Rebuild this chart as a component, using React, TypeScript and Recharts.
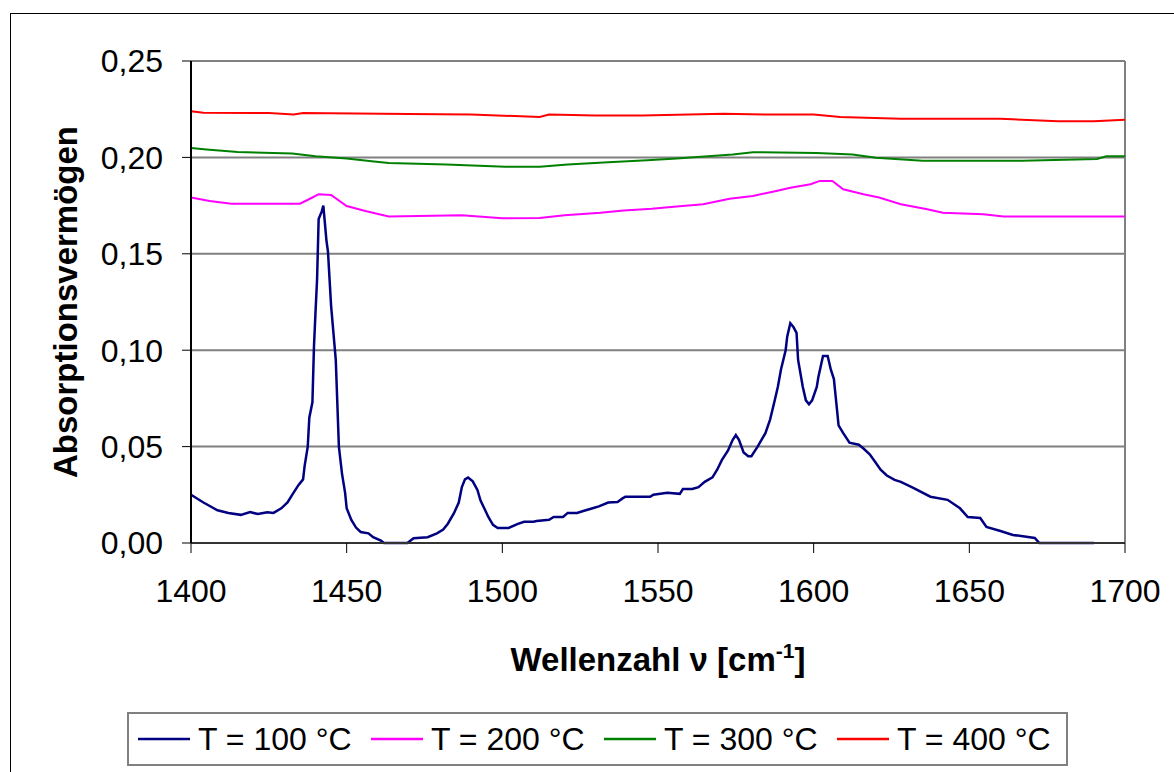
import {
  LineChart,
  Line,
  XAxis,
  YAxis,
  CartesianGrid,
  ReferenceLine,
  Legend,
  Label,
} from 'recharts';

// Wellenzahl [cm^-1] und Absorptionsvermögen je Temperatur
const nu100 = [
  1400, 1404, 1408.5, 1412, 1416, 1419, 1421.5, 1424.5, 1426.5, 1429, 1431, 1432.5, 1434.5, 1436,
  1436.5, 1437.5, 1438, 1439, 1439.5, 1440, 1440.5, 1441, 1442, 1442.5, 1443, 1443.5, 1444, 1445,
  1446.5, 1447.5, 1448.5, 1449.5, 1450, 1451.5, 1453, 1454.5, 1457, 1458.5, 1461, 1462, 1469.5,
  1471.5, 1476, 1479, 1481, 1482.5, 1484.5, 1486, 1487, 1488, 1489, 1490.5, 1492, 1493, 1494.5,
  1495.5, 1497, 1498.5, 1502, 1505, 1507, 1510, 1511, 1515, 1516.5, 1519.5, 1521, 1524, 1526, 1529,
  1531, 1534, 1537, 1538.5, 1539.5, 1547.5, 1548.5, 1553, 1557, 1558, 1561, 1563, 1565, 1567.5, 1569,
  1570.5, 1572.5, 1574, 1575, 1576, 1577.5, 1579, 1580, 1582, 1584.5, 1586, 1587.5, 1588.5, 1589.5,
  1591, 1591.5, 1592.5, 1593.5, 1594.5, 1595, 1596.5, 1597.5, 1598.5, 1599.5, 1601, 1601.5, 1603,
  1604.5, 1605.5, 1606.5, 1607.5, 1608, 1609.5, 1611.5, 1614.5, 1616, 1618, 1620, 1621.5, 1623.5,
  1626, 1628, 1632, 1637.5, 1643, 1647, 1649.5, 1653.5, 1655.5, 1660, 1664, 1671, 1672.5, 1690,
];
const abs100 = [
  0.025, 0.021, 0.017, 0.0156, 0.0146, 0.016, 0.015, 0.016, 0.0156, 0.018, 0.021, 0.025, 0.03, 0.033,
  0.04, 0.05, 0.065, 0.073, 0.102, 0.12, 0.137, 0.168, 0.172, 0.175, 0.166, 0.157, 0.151, 0.123,
  0.095, 0.05, 0.036, 0.026, 0.018, 0.012, 0.008, 0.0057, 0.005, 0.003, 0.0012, 0, 0,
  0.0025, 0.003, 0.005, 0.007, 0.01, 0.0156, 0.021, 0.029, 0.033, 0.034, 0.032, 0.0275, 0.022, 0.017,
  0.0135, 0.0094, 0.0078, 0.0078, 0.0099, 0.011, 0.011, 0.0114, 0.012, 0.0135, 0.0135, 0.0156, 0.0156, 0.0166, 0.018,
  0.019, 0.021, 0.0213, 0.023, 0.024, 0.024, 0.025, 0.026, 0.0255, 0.028, 0.028, 0.029, 0.0317, 0.034, 0.038,
  0.043, 0.048, 0.0535, 0.056, 0.0535, 0.047, 0.045, 0.045, 0.05, 0.057, 0.064, 0.074, 0.081, 0.09,
  0.1, 0.107, 0.114, 0.112, 0.109, 0.095, 0.081, 0.074, 0.072, 0.074, 0.081, 0.086, 0.097,
  0.097, 0.09, 0.085, 0.069, 0.061, 0.057, 0.052, 0.051, 0.049, 0.046, 0.0415, 0.038, 0.035,
  0.0327, 0.0317, 0.0286, 0.024, 0.0224, 0.018, 0.0135, 0.013, 0.0083, 0.0062, 0.0042, 0.0026, 0, 0,
];

const nu200 = [
  1400, 1406, 1413, 1435, 1439, 1441, 1445, 1450, 1456, 1463.5, 1487, 1500, 1512, 1520, 1531.5, 1539,
  1548, 1556, 1564.5, 1573, 1580.5, 1588, 1592.5, 1599, 1602, 1606, 1609.5, 1616, 1621, 1628, 1636.5,
  1641.5, 1654.5, 1661, 1700,
];
const abs200 = [
  0.1792, 0.1774, 0.176, 0.176, 0.1792, 0.1809, 0.1805, 0.1748, 0.1722, 0.1693, 0.17, 0.1684, 0.1686,
  0.17, 0.1713, 0.1725, 0.1734, 0.1745, 0.1757, 0.1786, 0.18, 0.1826, 0.1843, 0.1861, 0.1878, 0.1878,
  0.1835, 0.1809, 0.1792, 0.1757, 0.1731, 0.1713, 0.1705, 0.1693, 0.1693,
];

const nu300 = [
  1400, 1405, 1415, 1432.5, 1440, 1450, 1458, 1463.5, 1482, 1501, 1512, 1521, 1534, 1546.5, 1556, 1566,
  1574, 1580.5, 1601, 1612.5, 1620, 1635, 1667, 1691, 1694, 1700,
];
const abs300 = [
  0.2049, 0.2041, 0.2028, 0.202, 0.2006, 0.1994, 0.198, 0.1971, 0.1963, 0.1951, 0.1951, 0.1963, 0.1975,
  0.1985, 0.1994, 0.2006, 0.2015, 0.2027, 0.2023, 0.2015, 0.1998, 0.1983, 0.1983, 0.1992, 0.2006, 0.2006,
];

const nu400 = [
  1400, 1404, 1425, 1433, 1436, 1470, 1490, 1512, 1515, 1530, 1545, 1571, 1585, 1600, 1608.5, 1628,
  1660, 1678.5, 1690, 1700,
];
const abs400 = [
  0.2239, 0.2232, 0.223, 0.2222, 0.223, 0.2225, 0.2222, 0.221, 0.2222, 0.2217, 0.2217, 0.2227, 0.2222,
  0.2222, 0.221, 0.22, 0.22, 0.2188, 0.2188, 0.2195,
];

const xTicks = [1400, 1450, 1500, 1550, 1600, 1650, 1700];
const yTicks = [0, 0.05, 0.1, 0.15, 0.2, 0.25];

const toPoints = (xs: number[], ys: number[]) => xs.map((x, i) => ({ x, a: ys[i] }));

const series = [
  { name: 'T = 100 °C', color: '#000080', data: toPoints(nu100, abs100), width: 2.5 },
  { name: 'T = 200 °C', color: '#ff00ff', data: toPoints(nu200, abs200), width: 2 },
  { name: 'T = 300 °C', color: '#008000', data: toPoints(nu300, abs300), width: 2 },
  { name: 'T = 400 °C', color: '#ff0000', data: toPoints(nu400, abs400), width: 2 },
];

const FONT = '"Liberation Sans", Arial, sans-serif';

const YTitle = (props: any) => {
  const { x, y, height } = props.viewBox;
  const cx = x + 65;
  const cy = y + height / 2;
  return (
    <text
      x={cx}
      y={cy}
      transform={`rotate(-90 ${cx} ${cy})`}
      textAnchor="middle"
      dominantBaseline="central"
      fontFamily={FONT}
      fontWeight="bold"
      fontSize={33}
      fill="#000"
    >
      Absorptionsvermögen
    </text>
  );
};

const XTitle = (props: any) => {
  const { x, y, width } = props.viewBox;
  return (
    <text
      x={x + width / 2}
      y={y + 128}
      textAnchor="middle"
      fontFamily={FONT}
      fontWeight="bold"
      fontSize={33}
      fill="#000"
    >
      Wellenzahl ν [cm
      <tspan dy={-13} fontSize={21}>-1</tspan>
      <tspan dy={13}>]</tspan>
    </text>
  );
};

const LegendBox = (props: any) => (
  <div
    style={{
      boxSizing: 'border-box',
      width: 941,
      height: 54,
      border: '2px solid #808080',
      background: '#fff',
      display: 'flex',
      alignItems: 'center',
      paddingLeft: 9,
      fontFamily: FONT,
      fontSize: 32,
      color: '#000',
    }}
  >
    {props.payload.map((p: any) => (
      <div key={p.value} style={{ display: 'flex', alignItems: 'center', width: 233, flex: 'none' }}>
        <svg width={52} height={4} style={{ marginRight: 8 }}>
          <line x1={0} y1={2} x2={52} y2={2} stroke={p.color} strokeWidth={2.5} />
        </svg>
        <span style={{ whiteSpace: 'nowrap' }}>{p.value}</span>
      </div>
    ))}
  </div>
);

export default function App() {
  return (
    <div
      style={{
        position: 'absolute',
        left: 0,
        top: 0,
        width: 1174,
        height: 772,
        overflow: 'hidden',
        background: '#fff',
      }}
    >
      <div
        style={{
          position: 'absolute',
          left: 10,
          top: 13,
          width: 1200,
          height: 800,
          border: '1.5px solid #000',
        }}
      />
      <LineChart
        width={1174}
        height={772}
        margin={{ top: 61, right: 49, bottom: 0, left: 0 }}
        style={{ position: 'absolute', left: 0, top: 0 }}
      >
        <CartesianGrid vertical={false} stroke="#808080" strokeWidth={2} />
        <XAxis
          type="number"
          dataKey="x"
          domain={[1400, 1700]}
          ticks={xTicks}
          height={229}
          stroke="#333"
          strokeWidth={2}
          tickSize={10}
          tickMargin={26}
          tick={{ fill: '#000', fontSize: 32, fontFamily: FONT }}
          tickLine={{ stroke: '#000', strokeWidth: 1 }}
          interval={0}
        >
          <Label content={XTitle} />
        </XAxis>
        <YAxis
          type="number"
          domain={[0, 0.25]}
          ticks={yTicks}
          width={191}
          stroke="#000"
          strokeWidth={2}
          tickSize={9}
          tickMargin={19}
          tick={{ fill: '#000', fontSize: 32, fontFamily: FONT }}
          tickLine={{ stroke: '#000', strokeWidth: 1 }}
          tickFormatter={(v: number) => v.toFixed(2).replace('.', ',')}
          interval={0}
        >
          <Label content={YTitle} />
        </YAxis>
        <ReferenceLine x={1700} stroke="#808080" strokeWidth={2} />
        {series.map((s) => (
          <Line
            key={s.name}
            name={s.name}
            data={s.data}
            dataKey="a"
            type="linear"
            stroke={s.color}
            strokeWidth={s.width}
            dot={false}
            activeDot={false}
            isAnimationActive={false}
          />
        ))}
        <Legend
          layout="horizontal"
          verticalAlign="middle"
          align="center"
          content={LegendBox}
          wrapperStyle={{ left: 127, top: 712, width: 941, height: 54 }}
        />
      </LineChart>
    </div>
  );
}
